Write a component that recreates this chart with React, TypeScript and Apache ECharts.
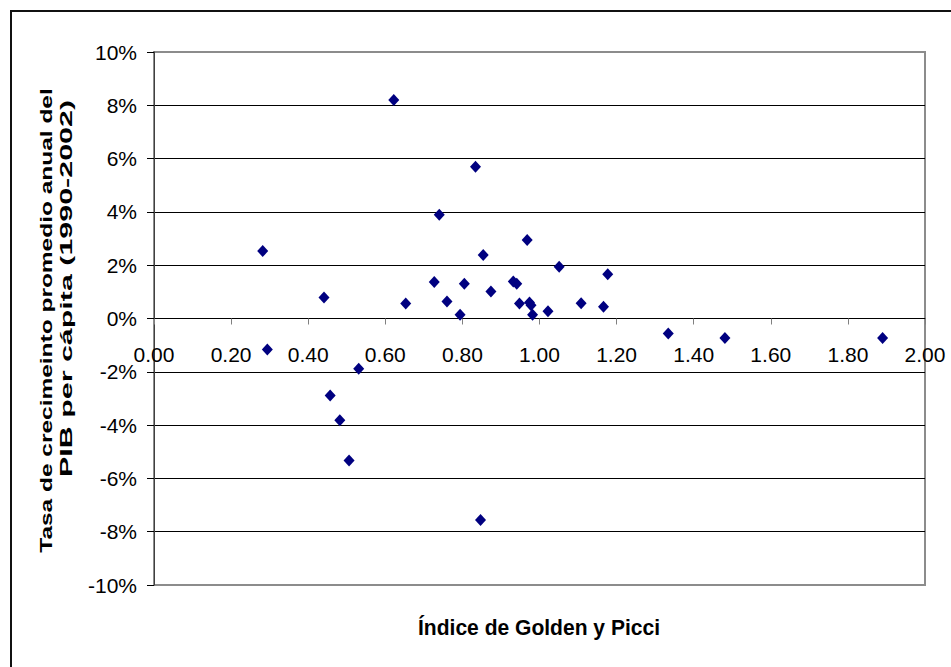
import React, { useEffect, useRef } from "react";
import * as echarts from "echarts";

// Índice de Golden y Picci (x) vs tasa de crecimiento promedio anual del PIB per cápita, % (y)
const goldenPicci: number[] = [
  0.282, 0.294, 0.441, 0.457, 0.482, 0.506, 0.531, 0.622, 0.653, 0.727, 0.74,
  0.76, 0.794, 0.805, 0.834, 0.847, 0.854, 0.874, 0.932, 0.941, 0.948, 0.968,
  0.974, 0.978, 0.982, 1.022, 1.051, 1.108, 1.166, 1.177, 1.334, 1.481, 1.89,
];
const growthPct: number[] = [
  2.53, -1.16, 0.79, -2.89, -3.82, -5.33, -1.89, 8.2, 0.56, 1.37, 3.89,
  0.64, 0.14, 1.3, 5.69, -7.56, 2.38, 1.01, 1.39, 1.3, 0.56, 2.95,
  0.6, 0.5, 0.14, 0.27, 1.94, 0.57, 0.44, 1.66, -0.56, -0.73, -0.73,
];
const xTickLabels: string[] = [
  "0.00", "0.20", "0.40", "0.60", "0.80", "1.00", "1.20", "1.40", "1.60", "1.80", "2.00",
];
const yTickLabels: string[] = [
  "-10%", "-8%", "-6%", "-4%", "-2%", "0%", "2%", "4%", "6%", "8%", "10%",
];
const xTitle = "Índice de Golden y Picci";
const yTitle1 = "Tasa de crecimeinto promedio anual del";
const yTitle2 = "PIB per cápita (1990-2002)";

const SANS = "'Liberation Sans', Arial, sans-serif";

function measure(text: string, font: string): number {
  const c = document.createElement("canvas");
  const ctx = c.getContext("2d");
  if (!ctx) return text.length * 10;
  ctx.font = font;
  return ctx.measureText(text).width || text.length * 10;
}

export default function App() {
  const ref = useRef<HTMLDivElement>(null);
  useEffect(() => {
    if (!ref.current) return;
    const chart = echarts.init(ref.current, undefined, { renderer: "svg" });

    const yFont = `bold 22px ${SANS}`;
    const w1 = measure(yTitle1, yFont);
    const w2 = measure(yTitle2, yFont);
    const xFont = `bold 24px ${SANS}`;
    const wx = measure(xTitle, xFont);

    const data = goldenPicci.map((x, i) => [x, growthPct[i]]);
    const gridColors = yTickLabels.map((_, i) =>
      i === 0 || i === yTickLabels.length - 1 ? "#8c8c8c" : "#000000"
    );

    chart.setOption({
      animation: false,
      backgroundColor: "#ffffff",
      grid: {
        left: 154,
        right: 26,
        top: 52,
        bottom: 82,
        show: true,
        borderColor: "#8c8c8c",
        borderWidth: 2,
        backgroundColor: "transparent",
      },
      xAxis: {
        type: "value",
        min: 0,
        max: 2,
        interval: 0.2,
        axisLine: { show: true, onZero: true, lineStyle: { color: "#000000", width: 1 } },
        axisTick: { show: true, inside: false, length: 6, lineStyle: { color: "#808080", width: 1 } },
        axisLabel: {
          margin: -241,
          color: "#000000",
          fontFamily: SANS,
          fontSize: 21,
          formatter: (v: number) => xTickLabels[Math.round(v / 0.2)] ?? v.toFixed(2),
        },
        splitLine: { show: false },
      },
      yAxis: {
        type: "value",
        min: -10,
        max: 10,
        interval: 2,
        axisLine: { show: true, onZero: false, lineStyle: { color: "#404040", width: 1 } },
        axisTick: { show: true, inside: false, length: 7, lineStyle: { color: "#000000", width: 1 } },
        axisLabel: {
          margin: 17,
          color: "#000000",
          fontFamily: SANS,
          fontSize: 21,
          formatter: (v: number) => yTickLabels[Math.round((v + 10) / 2)] ?? `${v}%`,
        },
        splitLine: { show: true, lineStyle: { color: gridColors, width: 1 } },
      },
      series: [
        {
          type: "scatter",
          data,
          symbol: "diamond",
          symbolSize: [11, 12],
          itemStyle: { color: "#000080", opacity: 1 },
          z: 5,
        },
      ],
      graphic: [
        {
          type: "rect",
          shape: { x: 11, y: 11, width: 1000, height: 1000 },
          style: { fill: "none", stroke: "#111111", lineWidth: 2 },
          silent: true,
          z: 0,
        },
        {
          type: "text",
          x: 46,
          y: 320.5,
          rotation: Math.PI / 2,
          scaleX: 465 / w1,
          scaleY: 0.75,
          style: {
            text: yTitle1,
            font: yFont,
            fill: "#000000",
            align: "center",
            verticalAlign: "middle",
          },
        },
        {
          type: "text",
          x: 66,
          y: 288.5,
          rotation: Math.PI / 2,
          scaleX: 377 / w2,
          scaleY: 0.75,
          style: {
            text: yTitle2,
            font: yFont,
            fill: "#000000",
            align: "center",
            verticalAlign: "middle",
          },
        },
        {
          type: "text",
          x: 539,
          y: 628,
          scaleX: 242 / wx,
          scaleY: 0.9,
          style: {
            text: xTitle,
            font: xFont,
            fill: "#000000",
            align: "center",
            verticalAlign: "middle",
          },
        },
      ],
    });
    return () => chart.dispose();
  }, []);
  return (
    <div
      ref={ref}
      style={{ position: "absolute", left: 0, top: 0, width: 951, height: 667 }}
    />
  );
}
